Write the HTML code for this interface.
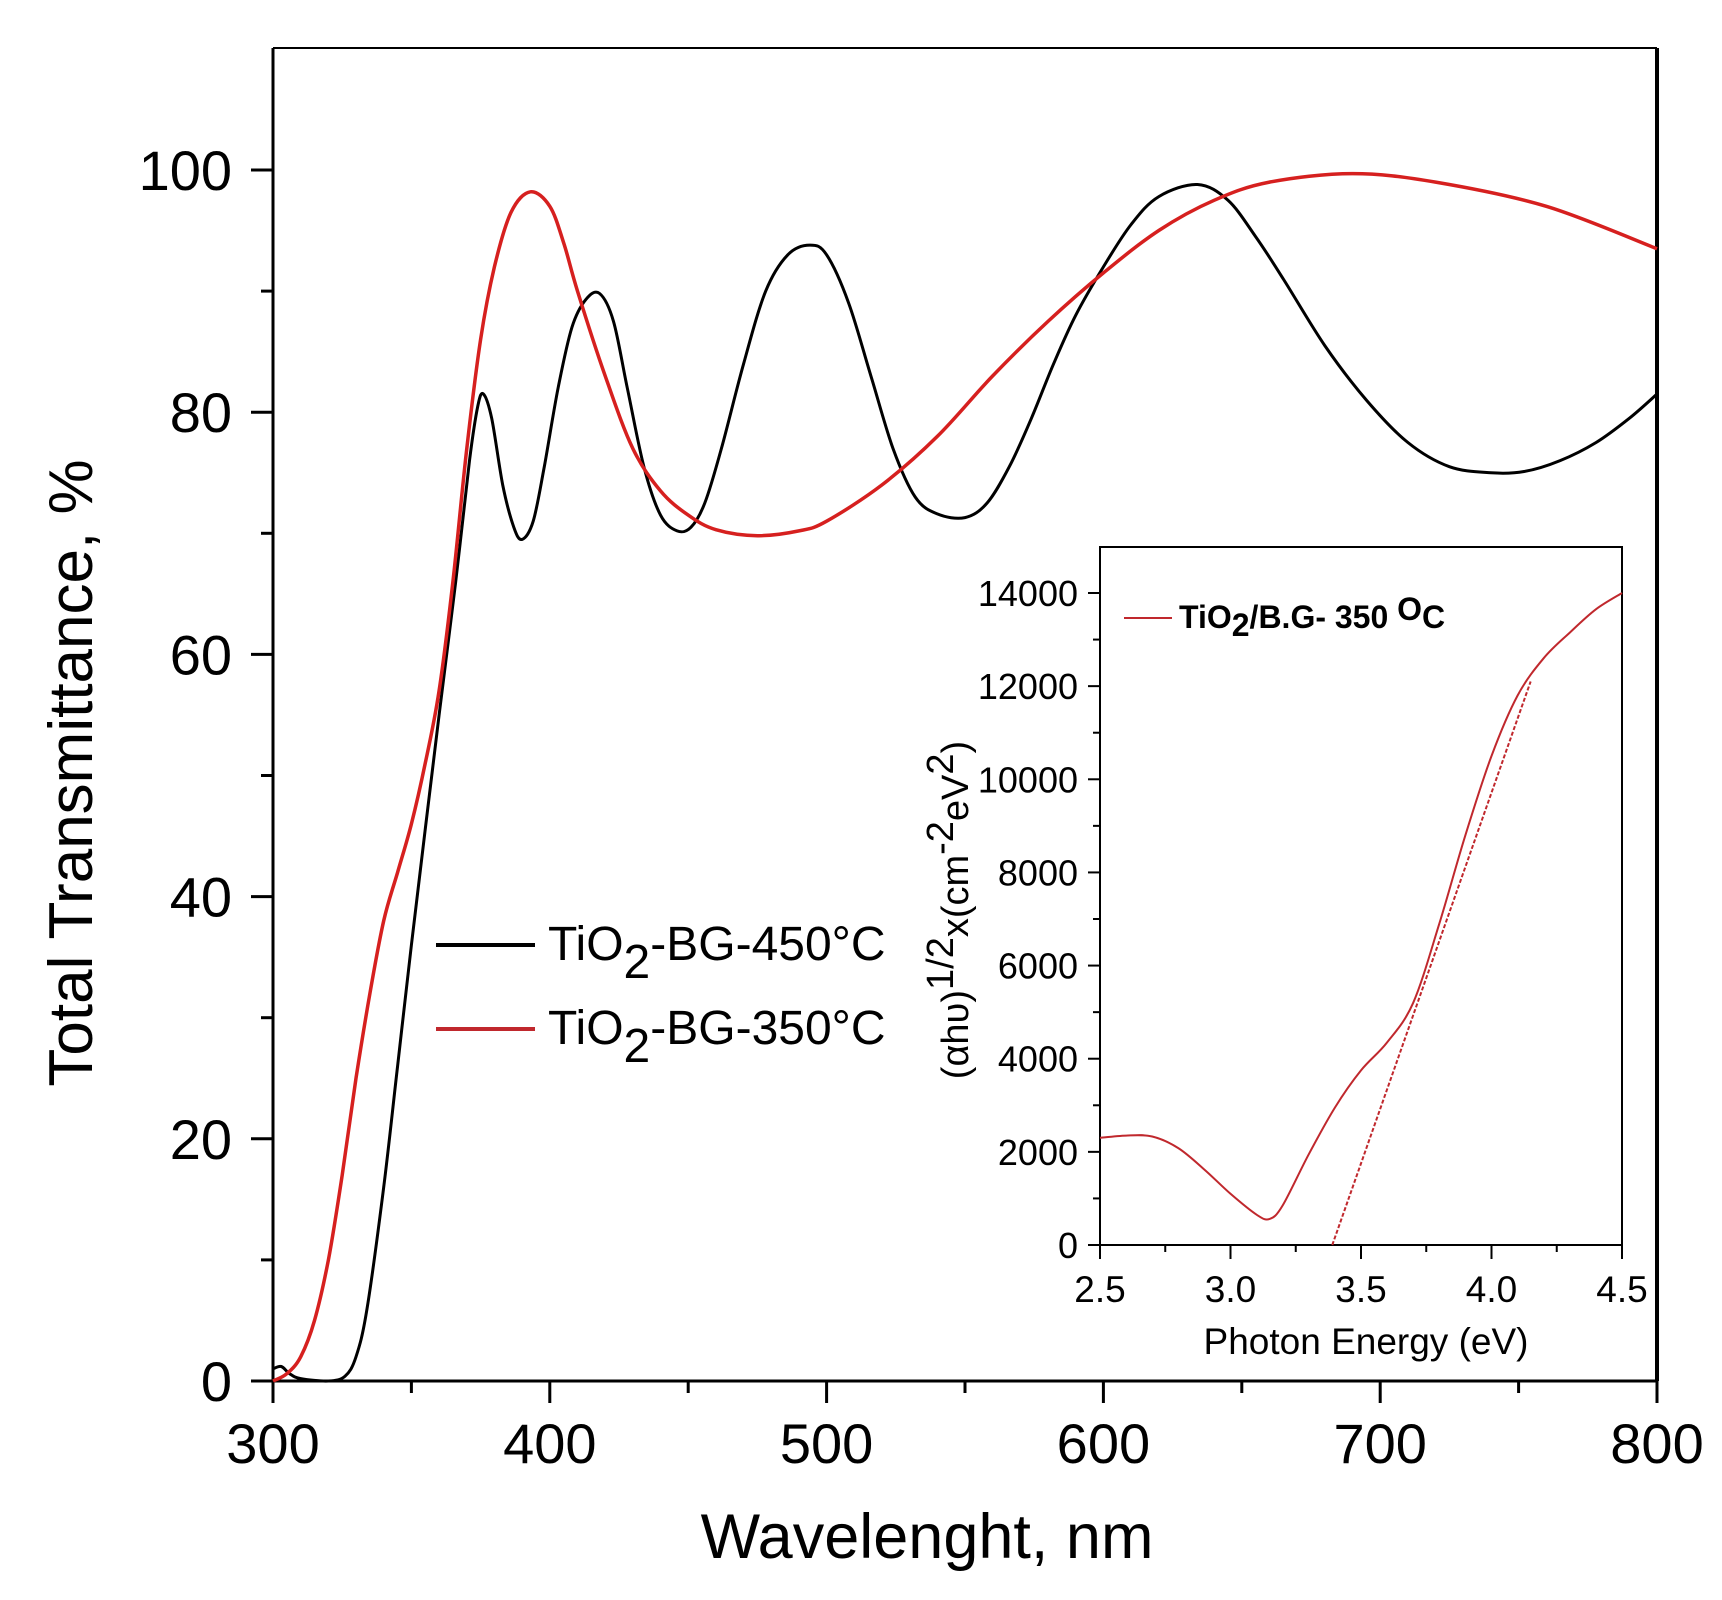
<!DOCTYPE html>
<html><head><meta charset="utf-8"><style>
html,body{margin:0;padding:0;background:#fff}
svg{display:block}
text{font-family:"Liberation Sans",Arial,sans-serif;fill:#000}
</style></head><body>
<svg id="s" width="1722" height="1600" viewBox="0 0 1722 1600" xmlns="http://www.w3.org/2000/svg">
<rect width="1722" height="1600" fill="#fff"/>
<g id="main"></g>
<g id="ins"></g>
<!-- main labels -->
<text x="927" y="1558" font-size="63" text-anchor="middle">Wavelenght, nm</text>
<text transform="translate(92,773) rotate(-90)" font-size="62" text-anchor="middle">Total Transmittance, %</text>
<line x1="436" y1="945" x2="535" y2="945" stroke="#000" stroke-width="4"/>
<line x1="436" y1="1029" x2="535" y2="1029" stroke="#c0282d" stroke-width="4"/>
<text x="548" y="960" font-size="48">TiO<tspan dy="18">2</tspan><tspan dy="-18">-BG-450°C</tspan></text>
<text x="548" y="1044" font-size="48">TiO<tspan dy="18">2</tspan><tspan dy="-18">-BG-350°C</tspan></text>
<!-- inset labels -->
<text x="1366" y="1354" font-size="37" text-anchor="middle">Photon Energy (eV)</text>
<text transform="translate(968,910) rotate(-90)" font-size="38" text-anchor="middle">(αhυ)<tspan dy="-15">1/2</tspan><tspan dy="15">x(cm</tspan><tspan dy="-15">-2</tspan><tspan dy="15">eV</tspan><tspan dy="-15">2</tspan><tspan dy="15">)</tspan></text>
<line x1="1124" y1="618" x2="1172" y2="618" stroke="#c0282d" stroke-width="2"/>
<text x="1179" y="628" font-size="32" font-weight="bold">TiO<tspan dy="8">2</tspan><tspan dy="-8">/B.G- 350 </tspan><tspan dy="-8">O</tspan><tspan dy="8">C</tspan></text>
</svg>
<script>
var NS="http://www.w3.org/2000/svg";
function el(p,t,a){var e=document.createElementNS(NS,t);for(var k in a)e.setAttribute(k,a[k]);p.appendChild(e);return e;}
function txt(p,x,y,s,fs,anc){var e=el(p,"text",{x:x,y:y,"font-size":fs,"text-anchor":anc});e.textContent=s;return e;}
function smooth(pts){var d="M"+pts[0][0].toFixed(1)+","+pts[0][1].toFixed(1);
 for(var i=0;i<pts.length-1;i++){var p0=pts[i-1]||pts[i],p1=pts[i],p2=pts[i+1],p3=pts[i+2]||p2;
 var c1=[p1[0]+(p2[0]-p0[0])/6,p1[1]+(p2[1]-p0[1])/6],c2=[p2[0]-(p3[0]-p1[0])/6,p2[1]-(p3[1]-p1[1])/6];
 d+=" C"+c1[0].toFixed(1)+","+c1[1].toFixed(1)+" "+c2[0].toFixed(1)+","+c2[1].toFixed(1)+" "+p2[0].toFixed(1)+","+p2[1].toFixed(1);}
 return d;}
var g=document.getElementById("main");
var L=273,R=1657,T=48,B=1381;
function mx(v){return L+(v-300)*(R-L)/500;}
function my(v){return B-(v)*(B-170)/100;}
el(g,"line",{x1:L,y1:T,x2:R,y2:T,stroke:"#000","stroke-width":2});
el(g,"line",{x1:R,y1:T,x2:R,y2:B,stroke:"#000","stroke-width":4});
el(g,"line",{x1:L,y1:T,x2:L,y2:B+22,stroke:"#000","stroke-width":3});
el(g,"line",{x1:L-22,y1:B,x2:R,y2:B,stroke:"#000","stroke-width":3});
for(var v=0;v<=100;v+=10){var y=my(v),maj=v%20==0;el(g,"line",{x1:L-(maj?22:12),y1:y,x2:L,y2:y,stroke:"#000","stroke-width":3});
 if(maj)txt(g,232,y+20,""+v,56,"end");}
for(var v=300;v<=800;v+=50){var x=mx(v),maj=v%100==0;el(g,"line",{x1:x,y1:B,x2:x,y2:B+(maj?22:12),stroke:"#000","stroke-width":3});
 if(maj)txt(g,x,1463,""+v,56,"middle");}
var black=[[300,1],[303,1.2],[306,0.6],[310,0.2],[320,0],[326,0.4],[330,2],[334,6],[340,16],[345,26],[350,36],[360,55],[366,66],[371,76],[374,80.5],[376,81.5],[379,79.5],[383,74],[387,70.5],[390,69.5],[394,71],[398,75.5],[403,82],[408,87],[413,89.3],[418,89.8],[423,87.5],[428,82],[434,75.5],[440,71.5],[446,70.2],[451,70.5],[456,72.5],[462,77],[470,84],[478,90],[486,93],[494,93.8],[500,93],[508,89],[516,83],[524,77],[532,73],[540,71.6],[550,71.3],[558,72.5],[566,75.5],[574,79.5],[582,84],[590,88],[600,92],[610,95.5],[620,97.8],[634,98.8],[645,97.5],[655,94.5],[665,91],[680,85.5],[695,81],[710,77.5],[725,75.5],[740,75],[752,75.1],[765,76],[778,77.5],[790,79.5],[800,81.5]];
var red=[[300,0],[305,0.6],[310,2],[315,5],[320,10],[325,17],[330,25],[335,32],[340,38],[345,42],[350,46],[355,51],[360,57],[365,66],[370,77],[375,86],[380,92],[386,96.5],[393,98.2],[400,97],[405,94],[410,90],[420,83],[430,77],[440,73.5],[450,71.5],[460,70.3],[475,69.8],[490,70.2],[500,71],[520,74],[540,78],[560,83],[580,87.5],[600,91.5],[620,95],[640,97.5],[660,99],[690,99.7],[720,99],[760,97],[800,93.5]];
el(g,"path",{d:smooth(black.map(function(p){return[mx(p[0]),my(p[1])]})),fill:"none",stroke:"#000","stroke-width":3});
el(g,"path",{d:smooth(red.map(function(p){return[mx(p[0]),my(p[1])]})),fill:"none",stroke:"#d6201f","stroke-width":3.5});
var h=document.getElementById("ins");
var iL=1100,iR=1622,iB=1245,iT=547,i14=593;
function ix(v){return iL+(v-2.5)*(iR-iL)/2;}
function iy(v){return iB-v*(iB-i14)/14000;}
el(h,"rect",{x:iL,y:iT,width:iR-iL,height:iB-iT,fill:"#fff",stroke:"#000","stroke-width":2});
for(var v=0;v<=14000;v+=1000){var y=iy(v),maj=v%2000==0;el(h,"line",{x1:iL-(maj?12:7),y1:y,x2:iL,y2:y,stroke:"#000","stroke-width":2});
 if(maj)txt(h,1078,y+13,""+v,36,"end");}
for(var v=2.5;v<=4.51;v+=0.25){var x=ix(v),maj=Math.abs(v*2-Math.round(v*2))<0.01;el(h,"line",{x1:x,y1:iB,x2:x,y2:iB+(maj?14:7),stroke:"#000","stroke-width":2});
 if(maj)txt(h,x,1302,v.toFixed(1),37,"middle");}
var ic=[[2.5,2300],[2.6,2350],[2.7,2330],[2.8,2080],[2.9,1620],[3.0,1100],[3.1,650],[3.15,560],[3.2,850],[3.3,1950],[3.4,2950],[3.5,3750],[3.6,4350],[3.7,5200],[3.8,6900],[3.9,8800],[4.0,10500],[4.1,11800],[4.2,12600],[4.3,13150],[4.4,13650],[4.5,14000]];
el(h,"path",{d:smooth(ic.map(function(p){return[ix(p[0]),iy(p[1])]})),fill:"none",stroke:"#c0282d","stroke-width":2});
el(h,"line",{x1:ix(3.39),y1:iy(0),x2:ix(4.15),y2:iy(12100),stroke:"#c0282d","stroke-width":2,"stroke-dasharray":"4,2"});
</script>
</body></html>
